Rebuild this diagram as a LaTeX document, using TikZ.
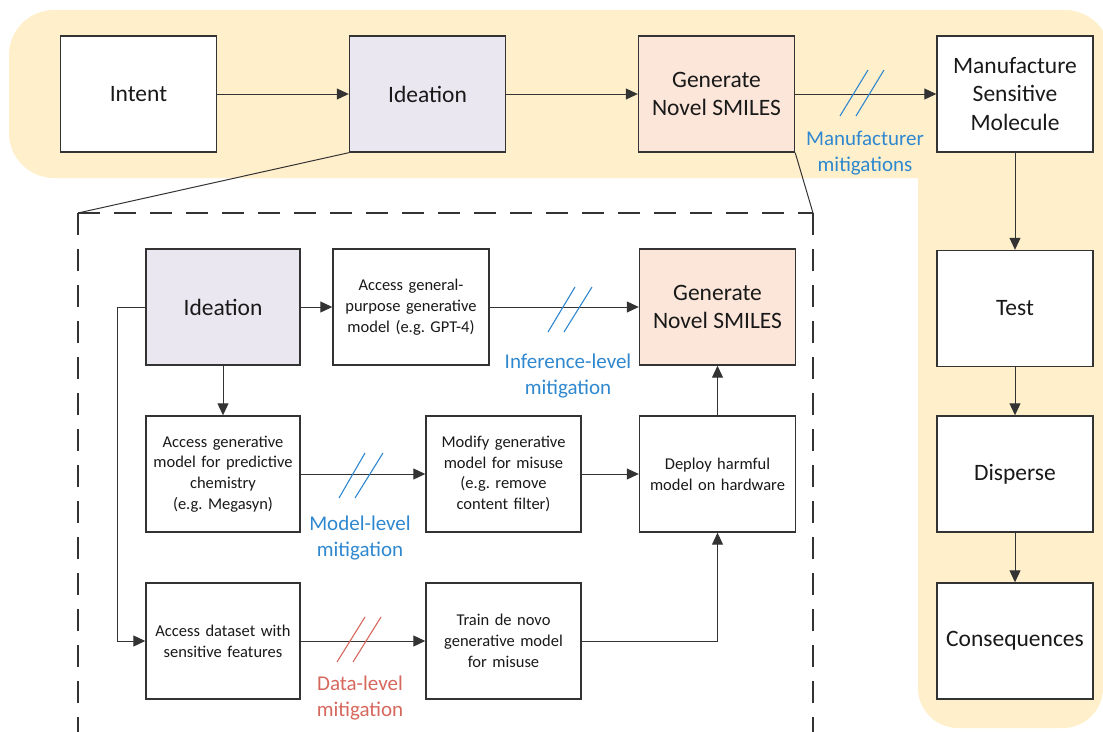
\documentclass[tikz,border=0pt]{standalone}
\usepackage{fontspec}
\setmainfont{Carlito}
\usetikzlibrary{arrows.meta}
\frenchspacing
\definecolor{bandY}{HTML}{FFF0CB}
\definecolor{ideaF}{HTML}{EAE7F0}
\definecolor{genF}{HTML}{FBE6D9}
\definecolor{boxL}{HTML}{333333}
\definecolor{mitB}{HTML}{2F88CF}
\definecolor{mitR}{HTML}{D6675D}
\begin{document}
\begin{tikzpicture}[x=1pt,y=-1pt,
  bigbox/.style={draw=boxL, line width=1.4pt, minimum width=156pt, minimum height=116pt, inner sep=2pt, align=center, fill=white, text=black!90, font=\fontsize{23.5}{28.5}\selectfont},
  smallbox/.style={bigbox, text width=150pt, font=\fontsize{16.5}{20.8}\selectfont},
  conn/.style={draw=boxL, line width=1pt, -{Triangle[length=12pt,width=11pt]}},
  mitlbl/.style={align=center, font=\fontsize{21}{26}\selectfont},
  slashB/.style={draw=mitB, line width=1.1pt},
  slashR/.style={draw=mitR, line width=1.1pt},
  dashbox/.style={draw=boxL, line width=1.5pt, dash pattern=on 22pt off 14pt}]
\useasboundingbox (0,0) rectangle (1103,731);
% yellow band
\fill[bandY, rounded corners=45pt] (9,10) rectangle (1110,178);
\fill[bandY, rounded corners=40pt] (918,10) rectangle (1103,728);
\fill[bandY] (918,60) rectangle (1060,178);
% top row
\node[bigbox] (intent) at (138.5,94) {Intent};
\node[bigbox, fill=ideaF] (idea) at (427.5,94) {Ideation};
\node[bigbox, fill=genF] (gen) at (716.5,94) {Generate\\Novel SMILES};
\node[bigbox] (manu) at (1015,94) {Manufacture\\Sensitive\\Molecule};
\node[bigbox] (test) at (1015,308.5) {Test};
\node[bigbox] (disp) at (1015,474) {Disperse};
\node[bigbox] (cons) at (1015,641) {Consequences};
\draw[conn] (intent) -- (idea);
\draw[conn] (idea) -- (gen);
\draw[conn] (gen) -- (manu);
\draw[conn] (manu) -- (test);
\draw[conn] (test) -- (disp);
\draw[conn] (disp) -- (cons);
\draw[slashB] (840,116) -- (868,70);
\draw[slashB] (856,116) -- (884,70);
\node[mitlbl, text=mitB] (lmanu) at (865,153) {Manufacturer\\mitigations};
% zoom-in dashed frame
\coordinate (dl) at (78,213);
\coordinate (dr) at (813,213);
\coordinate (dlb) at (78,735);
\coordinate (drb) at (813,735);
\draw[boxL, line width=1pt] (idea.south west) -- (dl);
\draw[boxL, line width=1pt] (gen.south east) -- (dr);
\draw[dashbox] (dl) -- (dr);
\draw[dashbox] (dl) -- (dlb);
\draw[dashbox] (dr) -- (drb);
% inner nodes
\node[bigbox, fill=ideaF, minimum width=154pt] (iidea) at (223,307) {Ideation};
\node[smallbox] (acc) at (411,307) {Access general-\\purpose generative\\model (e.g. GPT-4)};
\node[bigbox, fill=genF] (igen) at (717.5,307) {Generate\\Novel SMILES};
\node[smallbox, minimum width=154pt] (accg) at (223,474) {Access generative\\model for predictive\\chemistry\\(e.g. Megasyn)};
\node[smallbox, minimum width=155pt] (mod) at (503.5,474) {Modify generative\\model for misuse\\(e.g. remove\\content filter)};
\node[smallbox] (dep) at (717.5,474) {Deploy harmful\\model on hardware};
\node[smallbox, minimum width=154pt] (accd) at (223,641) {Access dataset with\\sensitive features};
\node[smallbox, minimum width=155pt] (train) at (503.5,641) {Train de novo\\generative model\\for misuse};
\coordinate (lft) at (117,307);
\draw[conn] (iidea) -- (acc);
\draw[conn] (iidea) -- (accg);
\draw[conn] (iidea.west) -- (lft) |- (accd.west);
\draw[conn] (acc) -- (igen);
\draw[conn] (accg) -- (mod);
\draw[conn] (mod) -- (dep);
\draw[conn] (dep) -- (igen);
\draw[conn] (accd) -- (train);
\draw[conn] (train.east) -| (dep.south);
% slashes and mitigation labels
\draw[slashB] (548,332) -- (575,287);
\draw[slashB] (564,332) -- (592,287);
\node[mitlbl, text=mitB] (linf) at (568,376) {Inference-level\\mitigation};
\draw[slashB] (339,498) -- (365,453);
\draw[slashB] (355,498) -- (383,453);
\node[mitlbl, text=mitB] (lmod) at (360,538) {Model-level\\mitigation};
\draw[slashR] (337,662) -- (365,617);
\draw[slashR] (353,662) -- (381,617);
\node[mitlbl, text=mitR] (ldat) at (360,698) {Data-level\\mitigation};
\end{tikzpicture}
\end{document}
